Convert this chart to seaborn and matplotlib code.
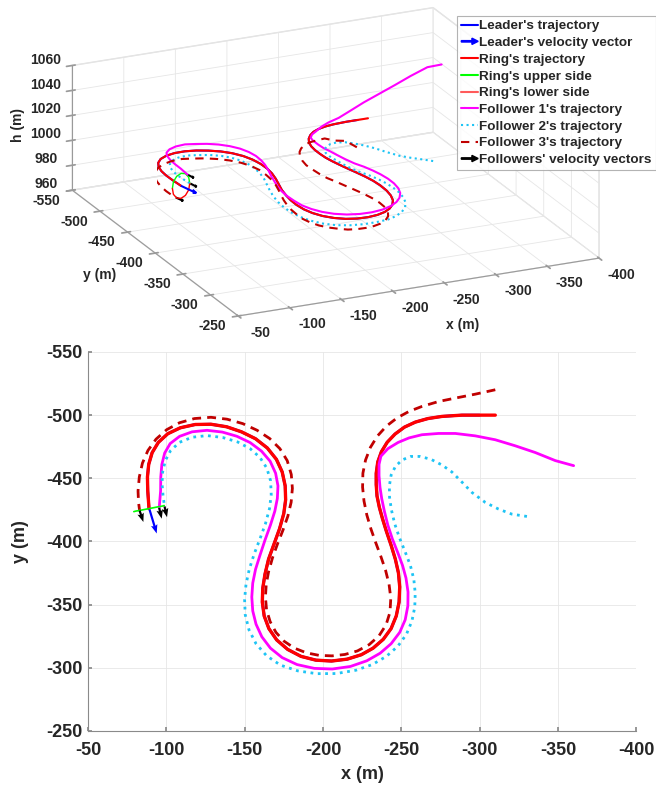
import numpy as np
import matplotlib
matplotlib.use('Agg')
import matplotlib.pyplot as plt
import seaborn as sns
from matplotlib.lines import Line2D
from matplotlib.patches import FancyArrow
from matplotlib.legend_handler import HandlerBase
from mpl_toolkits.mplot3d import proj3d

sns.set_theme(style='white')
plt.rcParams['font.family'] = ['Liberation Sans', 'DejaVu Sans']
plt.rcParams['font.weight'] = 'bold'
plt.rcParams['axes.labelweight'] = 'bold'
plt.rcParams['axes.unicode_minus'] = False
plt.rcParams['grid.color'] = '#e6e6e6'
plt.rcParams['grid.linewidth'] = 0.6

# ---- data (time order: start on the right, end at the ring) ----
leader_x = [-300, -288.7, -276, -267, -259, -252, -246, -241, -237.3, -235, -234, -234,
            -234.5, -236, -238, -240.5, -243.5, -246.2, -248.2, -249, -248.6, -246.8,
            -243.5, -238.5, -232, -224.5, -215.5, -205.5, -195.5, -186, -177.5, -170.5,
            -165.5, -162.5, -161.3, -161.6, -163, -165.3, -168.8, -172.3, -175, -176.2,
            -175.9, -174, -170.3, -164.5, -157, -148, -138.5, -128.5, -118.5, -109, -101,
            -95, -91, -88.8, -88, -88.2, -89]
leader_y = [-500, -500, -499, -497.3, -494.5, -490.5, -485, -478.5, -471, -463, -454, -445,
            -436, -427, -418, -408, -397, -386, -375, -364, -352, -341,
            -331, -322.5, -315.5, -310.3, -306.8, -305.3, -306, -309, -314.5, -322,
            -331, -341, -352, -363, -374, -386, -398, -410, -422, -433,
            -444, -455, -465, -474, -481.3, -486.8, -490.8, -492.8, -492.6, -490, -485.3,
            -478.5, -470.3, -461, -451, -440, -426]
leader_h = [1000] * len(leader_x)

ring_start = (-310, -500, 1000)

f1_x = [-360, -348.3, -335.5, -322.8, -310, -297.2, -284.5, -273.8, -263.2, -255, -248,
        -241.5, -237, -235.8, -235.8, -236.4, -237.5, -239.2, -241.4, -244.3, -247.8,
        -250.8, -253, -254.3, -254.2, -252.5, -249, -243.5, -236.5, -228, -217.5, -206,
        -194.5, -183.5, -174, -166.5, -161, -157.3, -155.2, -154.6, -155.2, -157,
        -159.8, -163, -166.5, -169.3, -170.9, -171.3, -169.8, -166.3, -160.8, -153.5,
        -145, -135.8, -126, -116.5, -108.5, -102.5, -99, -97.2, -96.5, -96.4, -95.5]
f1_y = [-460, -464, -470.4, -475.7, -480.5, -483.6, -485.5, -485.5, -484.5, -482, -478.4,
        -473.5, -467.5, -461, -452, -443, -434, -424, -413, -402, -391,
        -381, -371, -360, -349, -338, -328, -319, -311.5, -305.5, -301, -299,
        -299.5, -302.5, -308, -315.5, -324.5, -334.5, -345, -356, -367, -378,
        -389, -401, -413, -424, -434, -444, -454, -463.5, -471.5, -478.3,
        -483.3, -486.6, -488, -486.8, -483.2, -477.5, -470, -461, -451, -440, -426.5]
f1_h = [1050, 1048, 1040.5, 1033, 1026, 1020, 1014, 1010, 1008, 1006.5, 1005, 1005, 1005,
        1005, 1005, 1005, 1005.5, 1005.5, 1005.5, 1005.5, 1006, 1006, 1006,
        1006, 1006, 1006, 1006, 1006, 1006, 1006, 1006, 1006, 1006,
        1006, 1006, 1006, 1006, 1006, 1006.5, 1006.5, 1006.5, 1006.5, 1006.5,
        1006.5, 1007, 1007, 1007, 1007, 1007, 1007, 1007, 1007, 1007,
        1007, 1007.5, 1007.5, 1007.5, 1007.5, 1008, 1008, 1008, 1008, 1008]

f2_x = [-330.2, -320.6, -312.1, -303.6, -295.1, -288.7, -282.3, -276, -269, -262, -256,
        -250.5, -246.3, -243.5, -242.4, -242.5, -243.7, -245.8, -248.8, -252.4, -255.8,
        -258, -258.9, -258.6, -256.8, -253.3, -247.8, -240.5, -231.5, -221, -208.5, -196,
        -184, -173, -164, -157.3, -152.8, -150.4, -150, -150.9, -153, -156.1, -159.8,
        -163.3, -165.9, -167, -166.6, -164.2, -159.8, -153.5, -145.5, -136, -126, -116.5,
        -108.5, -102.8, -99.4, -97.7, -97.3, -97.9, -98.9]
f2_y = [-419.8, -421.6, -425.6, -430.9, -438.8, -447, -455, -460.5, -465, -467.3, -467.3,
        -464.5, -459.5, -452.5, -444, -435, -425, -414, -403, -392, -381,
        -370, -359, -348, -337, -326.5, -317, -309, -302.5, -298, -295.4, -295.3,
        -297.5, -302, -309.5, -319, -330, -342, -354, -366, -378, -390, -402,
        -414, -426, -437, -448, -458, -466.5, -473.5, -478.8, -482.3, -483.8, -482.5,
        -478.5, -472, -464, -455, -446, -437, -427.7]
f2_h = [990, 992, 993, 994, 995.5, 996.5, 997, 997.5, 998, 998,
        997.5, 997, 997, 997, 997.5, 998, 998, 998, 998, 998.5,
        998.5, 998.5, 998.5, 998.5, 998.5, 998.5, 998.5, 998.5, 998.5, 998.5,
        999, 999, 999, 999, 999, 999, 999, 999, 999, 999,
        999, 999, 999, 999.5, 999.5, 999.5, 999.5, 999.5, 999.5, 999.5,
        999.5, 999.5, 1000, 1000, 1000, 1000, 1000, 1000, 1000, 1000, 1000]

f3_x = [-310, -297.2, -284.5, -273.8, -263.2, -255, -247.3, -240.5, -234.8, -230.3, -227.2,
        -225.5, -225.3, -226.2, -228, -230.6, -233.7, -237, -240, -242.2, -243.3, -242.8,
        -240.3, -235.8, -229.5, -222, -214, -205.8, -197.5, -189.5, -181.8, -175.2, -170,
        -166.3, -164, -163.3, -163.8, -165.3, -167.8, -171, -174.5, -177.6, -179.7, -180.5,
        -179.8, -177.2, -172.5, -166, -158, -148.8, -138.8, -128.5, -118, -108.5, -100.3,
        -93.5, -88.3, -84.8, -82.8, -82, -82.3, -83]
f3_y = [-520.1, -516.6, -513.5, -510.8, -506.9, -503, -497.8, -491.3, -483.5, -474.5, -464.5,
        -454, -443, -432, -421, -410, -399, -388, -377, -366, -355, -344,
        -334, -325.3, -318.3, -313.3, -310.5, -309.4, -309.8, -311.8, -315.5, -321, -328,
        -336.5, -346, -356, -366, -376, -387, -398, -409, -420, -431, -442,
        -453, -464, -473.5, -481.5, -488, -493.3, -496.8, -498.3, -497.3, -494, -488.5,
        -481, -472, -462, -451, -440, -431, -424.4]
f3_h = [970, 978, 981, 985, 986, 987, 987.5, 988, 988.5, 989,
        989, 989, 989.5, 989.5, 989.5, 990, 990, 990, 990, 990,
        990, 990, 990, 990, 990, 990, 990, 990, 990, 990,
        990.5, 990.5, 990.5, 990.5, 990.5, 991, 991, 991, 991, 991,
        991, 991, 991, 991, 991.5, 991.5, 991.5, 991.5, 991.5, 991.5,
        991.5, 992, 992, 992, 992, 992, 992, 992, 992, 992,
        992, 992]

# ring at the final instant (upper and lower halves)
ring_up_x = [-79.3, -80.5, -84.1, -89, -93.9, -97.5, -98.7]
ring_up_y = [-423.6, -424.0, -424.8, -426, -427.2, -428.0, -428.4]
ring_up_h = [1000, 1005, 1008.7, 1010, 1008.7, 1005, 1000]
ring_lo_h = [1000, 995, 991.3, 990, 991.3, 995, 1000]

# velocity vectors at the final instant
lead_vel = (-4.6, 19.0)
foll_pos_x = [-95.5, -98.9, -83]
foll_pos_y = [-426.5, -427.7, -424.4]
foll_pos_h = [1008, 1000, 992]
foll_vel_u = [-1.6, -1.6, -2.4]
foll_vel_v = [8.5, 8.5, 9.0]

# axis ticks
x_ticks = [-400, -350, -300, -250, -200, -150, -100, -50]
y_ticks = [-550, -500, -450, -400, -350, -300, -250]
h_ticks = [960, 980, 1000, 1020, 1040, 1060]

ring_x = [ring_start[0]] + leader_x
ring_y = [ring_start[1]] + leader_y
ring_h = [ring_start[2]] + leader_h

C_LEAD = '#0000ff'
C_RING = '#ff0000'
C_UP = '#00ff00'
C_LO = '#ff5a5a'
C_F1 = '#ff00ff'
C_F2 = '#1ec4f5'
C_F3 = '#c00000'

fig = plt.figure(figsize=(6.56, 7.91), dpi=100)

# ---------------- 3D view ----------------
ax1 = fig.add_axes([0.0145, 0.5695, 0.98, 0.44], projection='3d')
ax1.set_proj_type('ortho')
ax1.set_box_aspect((1, 1, 0.335), zoom=1.61)
ax1.view_init(elev=20.4, azim=65.3)

ax1.plot(leader_x, leader_y, leader_h, color=C_LEAD, lw=1.5)
ax1.plot(ring_x, ring_y, ring_h, color=C_RING, lw=1.5)
ax1.plot(ring_up_x, ring_up_y, ring_up_h, color=C_UP, lw=1)
ax1.plot(ring_up_x, ring_up_y, ring_lo_h, color=C_RING, lw=1)
ax1.plot(f1_x, f1_y, f1_h, color=C_F1, lw=1.5)
ax1.plot(f2_x, f2_y, f2_h, color=C_F2, lw=1.5, ls=':')
ax1.plot(f3_x, f3_y, f3_h, color=C_F3, lw=1.5, ls=(0, (4, 3)))
ax1.quiver(leader_x[-1], leader_y[-1], leader_h[-1], lead_vel[0], lead_vel[1], 0,
           color=C_LEAD, lw=1.5, arrow_length_ratio=0.25)
ax1.quiver(foll_pos_x, foll_pos_y, foll_pos_h, foll_vel_u, foll_vel_v, [0, 0, 0],
           color='black', lw=1.5, arrow_length_ratio=0.3)

ax1.set_xlim(-400, -50)
ax1.set_ylim(-550, -250)
ax1.set_zlim(960, 1060)
ax1.set_xticks(x_ticks)
ax1.set_yticks(y_ticks)
ax1.set_zticks(h_ticks)
ax1.set_xticklabels([])
ax1.set_yticklabels([])
ax1.set_zticklabels([])
for a in (ax1.xaxis, ax1.yaxis, ax1.zaxis):
    a.set_pane_color((1, 1, 1, 1))
    a.pane.set_edgecolor('#e0e0e0')
    a.line.set_color('#9a9a9a')
    a.line.set_linewidth(0.8)
ax1.tick_params(colors='#9a9a9a')

# tick labels placed like MATLAB's, just outside the box edges
fig.canvas.draw()
M = ax1.get_proj()


def label3d(xv, yv, zv, txt):
    px, py, _ = proj3d.proj_transform(xv, yv, zv, M)
    fx, fy = fig.transFigure.inverted().transform(ax1.transData.transform((px, py)))
    fig.text(fx, fy, txt, fontsize=10, fontweight='bold', ha='center', va='center')


for xv in x_ticks:
    label3d(xv, -210, 960, str(xv))
for yv in y_ticks:
    label3d(-25, yv, 955, str(yv))
for hv in h_ticks:
    label3d(-35, -570, hv, str(hv))

fig.text(0.705, 0.589, 'x (m)', fontsize=10, fontweight='bold', ha='center', va='center')
fig.text(0.152, 0.652, 'y (m)', fontsize=10, fontweight='bold', ha='center', va='center')
fig.text(0.028, 0.842, 'h (m)', fontsize=10, fontweight='bold', ha='center', va='center',
         rotation=90)


class ArrowHandler(HandlerBase):
    def create_artists(self, legend, orig_handle, xdescent, ydescent, width, height,
                       fontsize, trans):
        arr = FancyArrow(0, height / 2, width, 0, width=1.0, head_width=4.5, head_length=4.5,
                         length_includes_head=True, color=orig_handle.get_color(),
                         transform=trans)
        return [arr]


h_lead = Line2D([], [], color=C_LEAD, lw=1.5)
h_lvel = Line2D([], [], color=C_LEAD)
h_ring = Line2D([], [], color=C_RING, lw=1.5)
h_up = Line2D([], [], color=C_UP, lw=1.5)
h_lo = Line2D([], [], color=C_LO, lw=1.5)
h_f1 = Line2D([], [], color=C_F1, lw=1.5)
h_f2 = Line2D([], [], color=C_F2, lw=1.5, ls=':')
h_f3 = Line2D([], [], color=C_F3, lw=1.5, ls=(0, (4, 3)))
h_fvel = Line2D([], [], color='black')
labels = ["Leader's trajectory", "Leader's velocity vector", "Ring's trajectory",
          "Ring's upper side", "Ring's lower side", "Follower 1's trajectory",
          "Follower 2's trajectory", "Follower 3's trajectory", "Followers' velocity vectors"]
leg = fig.legend([h_lead, h_lvel, h_ring, h_up, h_lo, h_f1, h_f2, h_f3, h_fvel], labels,
                 loc='upper right', bbox_to_anchor=(0.9995, 0.98), fontsize=9.7,
                 frameon=True, fancybox=False, edgecolor='#a0a0a0', borderpad=0.3,
                 labelspacing=0.32, handlelength=1.25, handletextpad=0.08, borderaxespad=0,
                 handler_map={h_lvel: ArrowHandler(), h_fvel: ArrowHandler()})
leg.get_frame().set_linewidth(0.8)

# ---------------- 2D top view ----------------
ax2 = fig.add_axes([0.134, 0.076, 0.836, 0.479])
sns.lineplot(x=leader_x, y=leader_y, sort=False, estimator=None, ax=ax2, color=C_LEAD, lw=2)
sns.lineplot(x=ring_x, y=ring_y, sort=False, estimator=None, ax=ax2, color=C_RING, lw=2.4)
sns.lineplot(x=f1_x, y=f1_y, sort=False, estimator=None, ax=ax2, color=C_F1, lw=2)
sns.lineplot(x=f2_x, y=f2_y, sort=False, estimator=None, ax=ax2, color=C_F2, lw=2,
             linestyle=':')
sns.lineplot(x=f3_x, y=f3_y, sort=False, estimator=None, ax=ax2, color=C_F3, lw=2,
             linestyle=(0, (3.2, 2.2)))
ax2.plot(ring_up_x, ring_up_y, color=C_UP, lw=1.2)
ax2.quiver(leader_x[-1], leader_y[-1], lead_vel[0], lead_vel[1], color=C_LEAD,
           angles='xy', scale_units='xy', scale=1, width=0.004, headwidth=3,
           headlength=4, headaxislength=3.5, zorder=5)
ax2.quiver(foll_pos_x, foll_pos_y, foll_vel_u, foll_vel_v, color='black',
           angles='xy', scale_units='xy', scale=1, width=0.004, headwidth=3,
           headlength=4, headaxislength=3.5, zorder=5)

ax2.set_xlim(-50, -400)
ax2.set_ylim(-250, -550)
ax2.set_xticks(x_ticks)
ax2.set_yticks(y_ticks)
ax2.grid(True)
for s in ('top', 'right'):
    ax2.spines[s].set_visible(False)
for s in ('left', 'bottom'):
    ax2.spines[s].set_color('#8a8a8a')
    ax2.spines[s].set_linewidth(0.8)
ax2.tick_params(labelsize=13, direction='in', length=3, color='#8a8a8a', pad=4,
                left=True, bottom=True)
ax2.tick_params(axis='x', pad=8)
ax2.set_xlabel('x (m)', fontsize=13, labelpad=5)
ax2.set_ylabel('y (m)', fontsize=13, labelpad=12)

fig.savefig('out.png', dpi=100)
